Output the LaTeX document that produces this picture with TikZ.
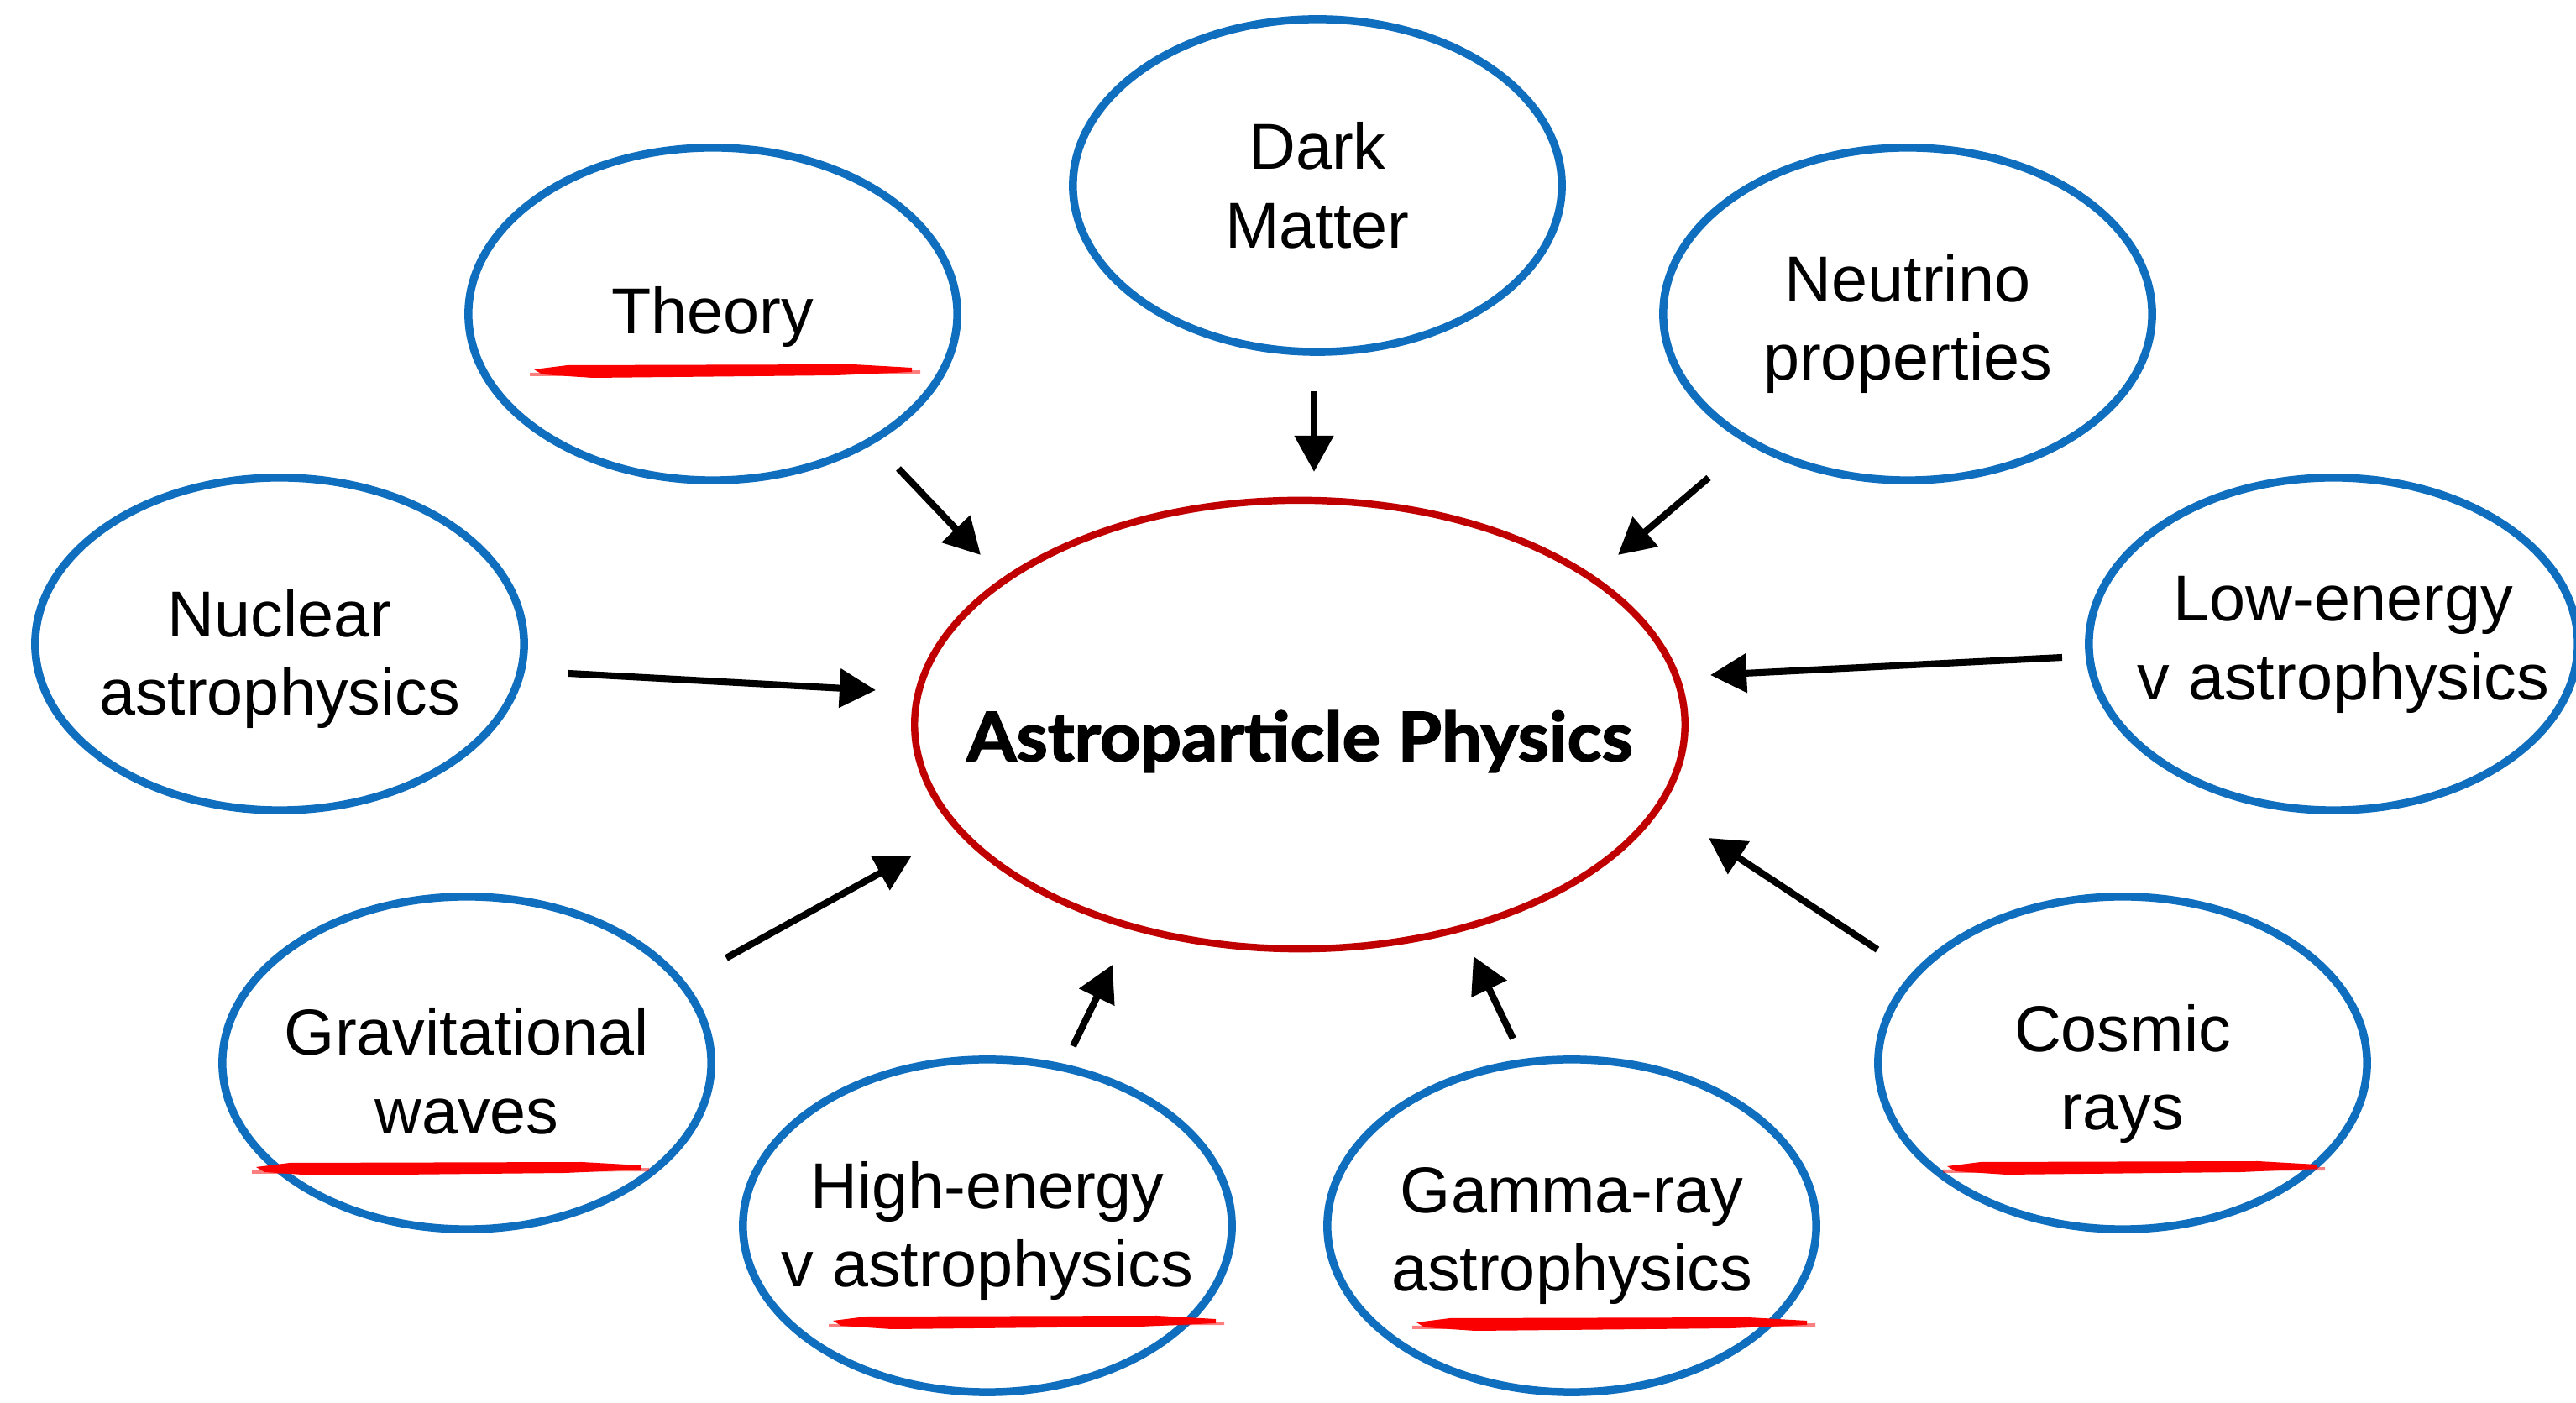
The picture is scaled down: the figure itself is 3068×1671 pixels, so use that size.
\documentclass[tikz,border=0pt]{standalone}
\usepackage{graphicx}
\usepackage{fontspec}
\setmainfont{Liberation Sans}
\newfontfamily\titlefont[BoldFeatures={FakeBold=2}]{Lato}
\usetikzlibrary{arrows.meta,shapes.geometric}
\definecolor{ringblue}{RGB}{16,110,190}
\definecolor{ringred}{RGB}{192,0,0}
\definecolor{brushred}{RGB}{250,0,0}
% red brush underline: #1 left x, #2 right x, #3 y (picture units)
\newcommand\redstroke[3]{%
  \fill[brushred] (#1,#3-2) -- (#1+40,#3-7) -- (#2-70,#3-8) -- (#2,#3-4)
    -- (#2,#3+1) -- (#2-90,#3+5) -- (#1+70,#3+8) -- (#1+10,#3+4) -- cycle;
  \fill[brushred,opacity=0.5] (#1-5,#3+2) -- (#2+10,#3-1) -- (#2+10,#3+3) -- (#1-5,#3+6) -- cycle;
}
\begin{document}
\begin{tikzpicture}[x=0.01cm,y=-0.01cm,
  topic/.style={ellipse, draw=ringblue, line width=2.7pt, fill=white,
    minimum width=5.82cm, minimum height=3.96cm, inner sep=0pt},
  txt/.style={align=center, inner sep=0pt, font=\fontsize{22}{26.7}\selectfont},
  core/.style={ellipse, draw=ringred, line width=2.4pt, fill=white,
    minimum width=9.17cm, minimum height=5.34cm, inner sep=0pt},
  coretxt/.style={inner sep=0pt, font=\titlefont\bfseries\fontsize{23}{27}\selectfont},
  link/.style={line width=2.3pt, -{Triangle[length=0.43cm,width=0.45cm]}}]
\useasboundingbox (0,0) rectangle (3068,1671);

\node[core, label={[coretxt, name=ap-t, yshift=-0.2cm]center:\scalebox{1.05}[1]{Astroparticle Physics}}] (ap) at (1548,863) {};

\node[topic, label={[txt, name=dm-t]center:Dark\\Matter}] (dm) at (1569,221) {};
\node[topic, label={[txt, name=th-t, yshift=-0.04cm]center:Theory}] (th) at (849,374) {};
\node[topic, label={[txt, name=np-t, yshift=-0.12cm]center:Neutrino\\properties}] (np) at (2272,374) {};
\node[topic, label={[txt, name=na-t, yshift=-0.18cm]center:Nuclear\\astrophysics}] (na) at (333,767) {};
\node[topic, label={[txt, name=le-t, xshift=0.12cm, yshift=-0.01cm]center:Low-energy\\v astrophysics}] (le) at (2779,767) {};
\node[topic, label={[txt, name=gw-t, yshift=-0.1cm]center:Gravitational\\waves}] (gw) at (556,1266) {};
\node[topic, label={[txt, name=he-t, yshift=-0.06cm]center:High-energy\\v astrophysics}] (he) at (1176,1460) {};
\node[topic, label={[txt, name=gr-t, yshift=-0.12cm]center:Gamma-ray\\astrophysics}] (gr) at (1872,1460) {};
\node[topic, label={[txt, name=cr-t, yshift=-0.13cm]center:Cosmic\\rays}] (cr) at (2528,1266) {};

\redstroke{636}{1086}{442}
\redstroke{305}{763}{1392}
\redstroke{992}{1448}{1575}
\redstroke{1687}{2152}{1577}
\redstroke{2319}{2759}{1391}

\coordinate (th-out) at (1070,558);  \coordinate (th-in) at (1168,661);
\coordinate (dm-out) at (1565,466);  \coordinate (dm-in) at (1565,562);
\coordinate (np-out) at (2035,569);  \coordinate (np-in) at (1927,661);
\coordinate (na-out) at (677,802);   \coordinate (na-in) at (1043,822);
\coordinate (le-out) at (2456,783);  \coordinate (le-in) at (2037,804);
\coordinate (gw-out) at (865,1141);  \coordinate (gw-in) at (1086,1019);
\coordinate (he-out) at (1278,1246); \coordinate (he-in) at (1325,1149);
\coordinate (gr-out) at (1802,1237); \coordinate (gr-in) at (1755,1139);
\coordinate (cr-out) at (2236,1131); \coordinate (cr-in) at (2035,998);

\foreach \s in {th,dm,np,na,le,gw,he,gr,cr}
  \draw[link] (\s-out) -- (\s-in);
\end{tikzpicture}
\end{document}
